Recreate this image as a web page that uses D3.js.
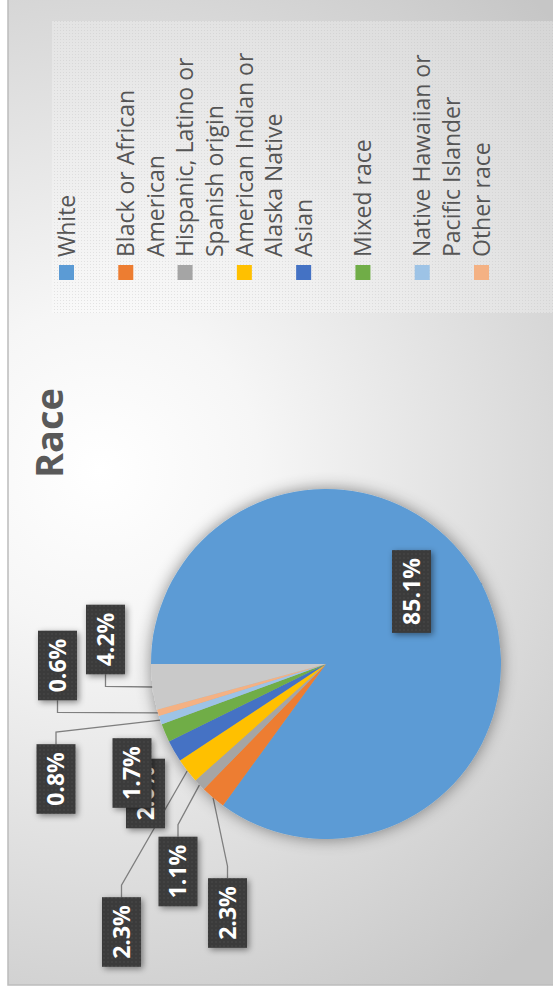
<!DOCTYPE html>
<html>
<head>
<meta charset="utf-8">
<script src="https://cdn.jsdelivr.net/npm/d3@7"></script>
<style>
  body { margin: 0; background: #fff; }
  svg { display: block; }
</style>
</head>
<body>
<div id="chart"></div>
<script>
// data
var races = ["White", "Black or African American", "Hispanic, Latino or Spanish origin",
  "American Indian or Alaska Native", "Asian", "Mixed race",
  "Native Hawaiian or Pacific Islander", "Other race", "Not listed"];
var shares = [85.1, 2.3, 1.1, 2.3, 2.0, 1.7, 0.8, 0.6, 4.2];
var legendLines = [["White"], ["Black or African", "American"], ["Hispanic, Latino or", "Spanish origin"],
  ["American Indian or", "Alaska Native"], ["Asian"], ["Mixed race"],
  ["Native Hawaiian or", "Pacific Islander"], ["Other race"]];
var colors = ["#5b9bd5", "#ed7d31", "#a5a5a5", "#ffc000", "#4472c4", "#70ad47", "#9dc3e6", "#f4b183", "#c9c9c9"];

// callout box centres, relative to the pie centre (chart drawn unrotated, then turned)
var calloutOffset = [[72.5, 85.5], [-249, -98.5], [-207.5, -148], [-268, -204.5], [-129.5, -180.5],
  [-109, -194], [-115, -270], [-1.5, -268.5], [24.5, -220.5]];

var svgWidth = 553;
var svgHeight = 993;
var chartW = 985;   // unrotated width  (shows as page height)
var chartH = 560;   // unrotated height (shows as page width)

var svg = d3.select("#chart").append("svg")
  .attr("width", svgWidth)
  .attr("height", svgHeight);

var defs = svg.append("defs");

var bg = defs.append("radialGradient")
  .attr("id", "bg")
  .attr("gradientUnits", "userSpaceOnUse")
  .attr("cx", 515).attr("cy", 100).attr("r", 640);
bg.append("stop").attr("offset", "0").attr("stop-color", "#ffffff");
bg.append("stop").attr("offset", "0.25").attr("stop-color", "#f6f6f6");
bg.append("stop").attr("offset", "1").attr("stop-color", "#c6c6c6");

var dots = defs.append("pattern")
  .attr("id", "dots")
  .attr("width", 4).attr("height", 4)
  .attr("patternUnits", "userSpaceOnUse");
dots.append("rect").attr("width", 4).attr("height", 4).attr("fill", "#3a3a3a");
dots.append("circle").attr("cx", 2).attr("cy", 2).attr("r", 0.7).attr("fill", "#505050");

var mesh = defs.append("pattern")
  .attr("id", "mesh")
  .attr("width", 3).attr("height", 3)
  .attr("patternUnits", "userSpaceOnUse");
mesh.append("rect").attr("width", 3).attr("height", 3).attr("fill", "#ffffff").attr("fill-opacity", 0.28);
mesh.append("rect").attr("width", 1).attr("height", 1).attr("fill", "#bdbdbd").attr("fill-opacity", 0.35);

var pieShadow = defs.append("filter").attr("id", "pieShadow")
  .attr("x", "-20%").attr("y", "-20%").attr("width", "140%").attr("height", "140%");
pieShadow.append("feDropShadow")
  .attr("dx", 0).attr("dy", 0).attr("stdDeviation", 8)
  .attr("flood-color", "#000").attr("flood-opacity", 0.45);

var boxShadow = defs.append("filter").attr("id", "boxShadow")
  .attr("x", "-30%").attr("y", "-30%").attr("width", "160%").attr("height", "160%");
boxShadow.append("feDropShadow")
  .attr("dx", -2).attr("dy", 2).attr("stdDeviation", 3)
  .attr("flood-color", "#000").attr("flood-opacity", 0.45);

// whole chart is turned a quarter turn anticlockwise
var chart = svg.append("g")
  .attr("transform", "translate(0," + chartW + ") rotate(-90)");

chart.append("rect")
  .attr("x", 0).attr("y", 8)
  .attr("width", chartW + 20).attr("height", chartH)
  .attr("fill", "url(#bg)")
  .attr("stroke", "#bcbcbc")
  .attr("stroke-width", 1.5);

// title
chart.append("text")
  .attr("x", 552).attr("y", 63)
  .attr("text-anchor", "middle")
  .style("font-family", "'Open Sans', sans-serif")
  .style("font-size", "38px")
  .style("font-weight", "bold")
  .style("fill", "#595959")
  .text("Race");

// legend
chart.append("rect")
  .attr("x", 672).attr("y", 52)
  .attr("width", 292).attr("height", 520)
  .attr("fill", "url(#mesh)");

var legendY = d3.scaleLinear().domain([0, 7]).range([66.5, 481.5]);

var legend = chart.selectAll(".legend")
  .data(legendLines)
  .enter()
  .append("g")
  .attr("class", "legend")
  .attr("transform", (d, i) => "translate(0," + legendY(i) + ")");

legend.append("rect")
  .attr("x", 705).attr("y", -7.5)
  .attr("width", 15).attr("height", 15)
  .attr("fill", (d, i) => colors[i]);

legend.append("text")
  .attr("x", 728)
  .attr("y", 0)
  .style("font-family", "'Open Sans', sans-serif")
  .style("font-size", "23px")
  .style("fill", "#555555")
  .selectAll("tspan")
  .data(d => d)
  .enter()
  .append("tspan")
  .attr("x", 728)
  .attr("y", (d, j) => j * 29.5)
  .attr("dy", "0.36em")
  .text(d => d);

// pie
var cx = 321, cy = 326, radius = 175;

var pie = d3.pie().sort(null).value(d => d)(shares);
var arc = d3.arc().innerRadius(0).outerRadius(radius);

var pieGroup = chart.append("g")
  .attr("transform", "translate(" + cx + "," + cy + ")");

pieGroup.append("g")
  .attr("filter", "url(#pieShadow)")
  .selectAll("path")
  .data(pie)
  .enter()
  .append("path")
  .attr("d", arc)
  .attr("fill", (d, i) => colors[i]);

// callouts
var fmt = d3.format(".1f");
var boxH = 39;
var stub = 12;

pie.forEach(function(d, i) {
  var label = fmt(shares[i]) + "%";
  var bx = calloutOffset[i][0], by = calloutOffset[i][1];
  var a = (d.startAngle + d.endAngle) / 2;
  var tx = radius * Math.sin(a), ty = -radius * Math.cos(a);

  var g = pieGroup.append("g");
  var t = g.append("text")
    .attr("x", bx).attr("y", by)
    .attr("text-anchor", "middle")
    .attr("dy", "0.36em")
    .style("font-family", "'Open Sans', sans-serif")
    .style("font-size", "23px")
    .style("font-weight", "bold")
    .style("fill", "#ffffff")
    .text(label);
  var w = t.node().getComputedTextLength() + 16;

  // leader line, only when the box sits away from its slice
  var nx = Math.max(bx - w / 2, Math.min(tx, bx + w / 2));
  var ny = Math.max(by - boxH / 2, Math.min(ty, by + boxH / 2));
  if (Math.hypot(tx - nx, ty - ny) > 15) {
    var ex = tx < bx ? bx - w / 2 : bx + w / 2;
    var sx = tx < bx ? ex - stub : ex + stub;
    pieGroup.insert("path", "g")
      .attr("d", d3.line()([[ex, by], [sx, by], [tx, ty]]))
      .attr("fill", "none")
      .attr("stroke", "#7f7f7f")
      .attr("stroke-width", 1.3);
  }

  g.insert("rect", "text")
    .attr("x", bx - w / 2).attr("y", by - boxH / 2)
    .attr("width", w).attr("height", boxH)
    .attr("fill", "url(#dots)")
    .attr("filter", "url(#boxShadow)");
});
</script>
</body>
</html>
